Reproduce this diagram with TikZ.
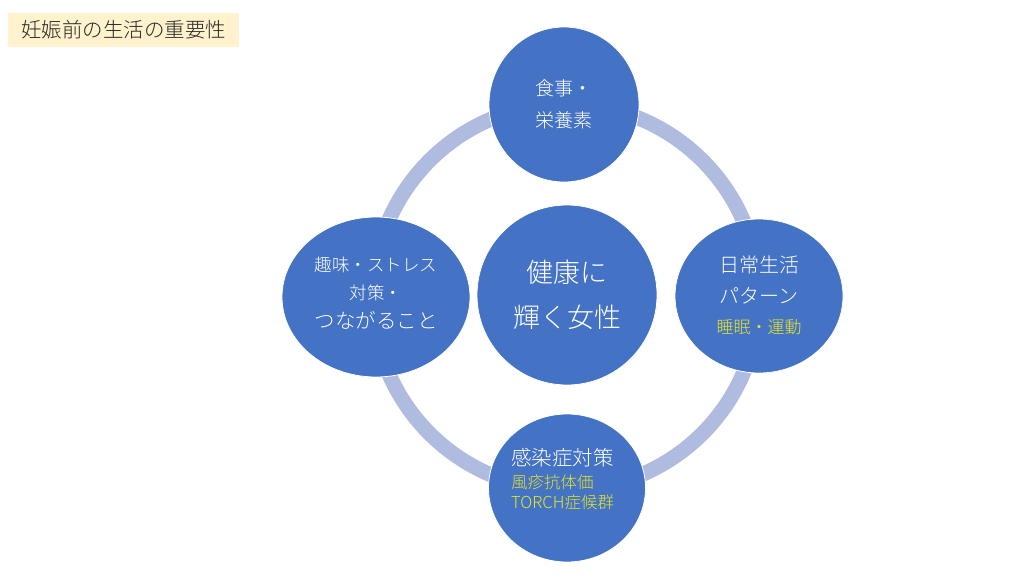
\documentclass[tikz,border=0pt]{standalone}
\usepackage{fontspec}
\IfFontExistsTF{Noto Sans CJK JP Light}{\setmainfont{Noto Sans CJK JP Light}}{\setmainfont{Noto Sans CJK JP}}
\definecolor{circblue}{RGB}{68,114,196}
\definecolor{ringcol}{RGB}{176,188,223}
\definecolor{titlefill}{RGB}{255,242,204}
\definecolor{yel}{RGB}{230,230,40}
\definecolor{titletext}{RGB}{40,40,40}
\tikzset{
  bubble/.style={draw=white, line width=0.8pt, fill=circblue, ellipse},
  wtext/.style={text=white, align=center, inner sep=0pt},
}
\usetikzlibrary{shapes.geometric}
\begin{document}
\begin{tikzpicture}[x=1pt,y=-1pt]
\useasboundingbox (0,0) rectangle (1024,576);
% title
\node[fill=titlefill, minimum width=231pt, minimum height=34pt, inner sep=0pt, text=titletext, font=\fontsize{20.5}{24}\selectfont] (title) at (123.5,29.5) {妊娠前の生活の重要性};
% ring
\coordinate (rc) at (566,297);
\draw[ringcol, line width=15pt] (rc) circle[radius=193];
% bubbles
\node[bubble, minimum width=150pt, minimum height=155pt] (top) at (564,104.5) {};
\node[bubble, minimum width=168pt, minimum height=154pt] (right) at (759,296) {};
\node[bubble, minimum width=188pt, minimum height=160pt] (left) at (376,297) {};
\node[bubble, minimum width=157pt, minimum height=148pt] (bottom) at (567,488) {};
\node[bubble, minimum width=180pt, minimum height=180pt] (center) at (567,295) {};
% texts
\node[wtext, align=left, font=\fontsize{19}{32}\selectfont] (toptext) at (top) {食事・\\栄養素};
\node[wtext, font=\fontsize{27}{45}\selectfont] (centertext) at (center) {健康に\\輝く女性};
\node[wtext, font=\fontsize{17.5}{28.5}\selectfont] (lefttext) at (376,293) {趣味・ストレス\\対策・\\{\fontsize{20.5}{28.5}\selectfont つながること}};
\node[wtext, font=\fontsize{20}{31}\selectfont] (righttext) at (759,280) {日常生活\\パターン};
\node[wtext, text=yel, font=\fontsize{17}{20}\selectfont] (rightyel) at (759,327) {睡眠・運動};
\node[wtext, anchor=west, font=\fontsize{20.5}{24}\selectfont] (bottomtext) at (511,458) {感染症対策};
\node[wtext, anchor=west, align=left, text=yel, font=\fontsize{16.5}{20}\selectfont] (bottomyel) at (511,492) {風疹抗体価\\TORCH症候群};
\end{tikzpicture}
\end{document}
